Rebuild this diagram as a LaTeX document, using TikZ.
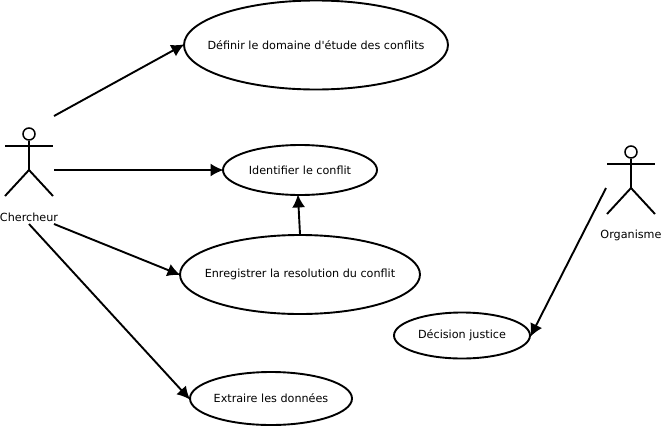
\documentclass[tikz,border=0pt]{standalone}
\usepackage{fontspec}
\setmainfont{DejaVu Sans}
\usetikzlibrary{shapes.geometric,arrows.meta}

\begin{document}
\begin{tikzpicture}[x=1pt,y=-1pt,line width=1.9pt,>={Latex[length=13pt,width=13pt]}]
    \tikzstyle{usecase}=[ellipse,draw=black,inner ysep=0pt,inner xsep=-20pt,font=\fontsize{11.2}{13}\selectfont]
    \tikzstyle{actor label}=[inner sep=0pt,font=\fontsize{11.2}{13}\selectfont]
    \tikzstyle{actor head}=[circle,draw=black,line width=1.5pt,minimum size=12pt,inner sep=0pt]
    \tikzstyle{link}=[->,shorten >=-1.5pt]

    \useasboundingbox (0,0) rectangle (661,426);

    % Draw the use cases
    \node[usecase,minimum width=264pt,minimum height=89pt] (definir) at (316,45) {Définir le domaine d\textquotesingle étude des conflits};
    \node[usecase,minimum width=154pt,minimum height=50pt] (identifier) at (300,170) {Identifier le conflit};
    \node[usecase,minimum width=240pt,minimum height=79pt,text height=9pt] (enregistrer) at (300,274.5) {Enregistrer la resolution du conflit};
    \node[usecase,minimum width=162pt,minimum height=53pt] (extraire) at (271,398.5) {Extraire les données};
    \node[usecase,minimum width=136pt,minimum height=46pt] (decision) at (462,335.5) {Décision justice};

    % Draw the two actors
    \foreach \name / \x / \y / \text in {C/29/134/Chercheur,O/631/152/Organisme} {
        \node[actor head] (\name-head) at (\x,\y) {};
        \coordinate (\name-hip) at (\x,\y+36);
        \draw (\name-head) -- (\name-hip);
        \draw (\x-24,\y+12) -- (\x+24,\y+12);
        \draw (\x-24,\y+62) -- (\name-hip) -- (\x+24,\y+62);
        \node[actor label] (\name-label) at (\x,\y+83) {\text};
    }

    % Free ends of the connectors
    \coordinate (C-a) at (54,116);
    \coordinate (C-b) at (54,170);
    \coordinate (C-c) at (54,224);
    \coordinate (C-d) at (29,224);
    \coordinate (O-a) at (606,188);

    % Connect the actors with their use cases
    \draw[link] (C-a) -- (definir.west);
    \draw[link] (C-b) -- (identifier.west);
    \draw[link] (C-c) -- (enregistrer.west);
    \draw[link] (C-d) -- (extraire.west);
    \draw[link] (O-a) -- (decision.east);
    \draw[link] (enregistrer.north) -- ([xshift=-2pt]identifier.south);
\end{tikzpicture}
\end{document}
